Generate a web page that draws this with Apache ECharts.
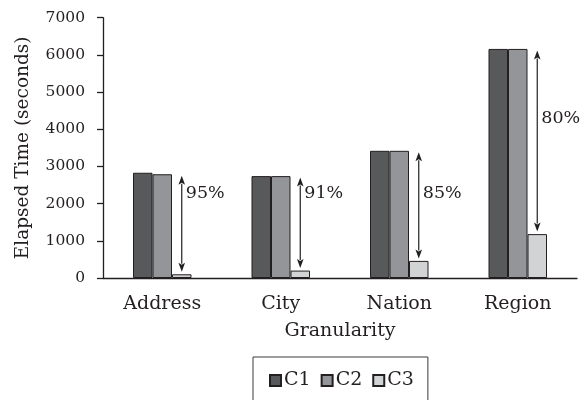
<!DOCTYPE html>
<html>
<head>
<meta charset="utf-8">
<script src="https://cdn.jsdelivr.net/npm/echarts@6/dist/echarts.min.js"></script>
<style>
html,body{margin:0;padding:0;background:#fff;}
#chart{width:587px;height:400px;}
</style>
</head>
<body>
<div id="chart"></div>
<script>
// ---- data ----
var categories = ['Address', 'City', 'Nation', 'Region'];
var seriesNames = ['C1', 'C2', 'C3'];
var c1Values = [2830, 2740, 3420, 6160];
var c2Values = [2790, 2740, 3420, 6160];
var c3Values = [100, 200, 460, 1180];
var reductionLabels = ['95%', '91%', '85%', '80%'];
var labelValues = [2270, 2270, 2270, 4280];
var yTicks = { min: 0, max: 7000, interval: 1000 };

// ---- styles ----
var FONT = 'DejaVu Serif';
var INK = '#231f20';
var BAR_W = 19.5;
var colors = ['#58595b', '#939598', '#d1d3d4'];

var arrowData = categories.map(function (c, i) {
  return [i, c2Values[i], c3Values[i], labelValues[i]];
});

var chart = echarts.init(document.getElementById('chart'), null, { renderer: 'canvas' });

function barSeries(name, data, color) {
  return {
    name: name,
    type: 'bar',
    data: data,
    barWidth: BAR_W,
    barGap: '0%',
    itemStyle: { color: color, borderColor: INK, borderWidth: 1 },
    emphasis: { disabled: true }
  };
}

var option = {
  animation: false,
  backgroundColor: '#fff',
  textStyle: { fontFamily: FONT, color: INK },
  grid: { left: 103, right: 10, top: 17.7, bottom: 122, containLabel: false },
  legend: {
    data: seriesNames,
    left: 253,
    top: 357,
    orient: 'horizontal',
    icon: 'rect',
    itemWidth: 11,
    itemHeight: 11,
    itemGap: 10,
    padding: [14, 14, 14, 16],
    borderColor: '#3a3a3a',
    borderWidth: 1,
    textStyle: { fontFamily: FONT, fontSize: 19, color: INK, padding: [0, 0, 0, -2] }
  },
  xAxis: {
    type: 'category',
    data: categories,
    name: 'Granularity',
    nameLocation: 'middle',
    nameGap: 44,
    nameTextStyle: { fontFamily: FONT, fontSize: 19, color: INK },
    axisLine: { show: true, lineStyle: { color: INK, width: 1.3 } },
    axisTick: { show: false },
    axisLabel: { fontFamily: FONT, fontSize: 19, color: INK, margin: 17 },
    splitLine: { show: false }
  },
  yAxis: {
    type: 'value',
    min: yTicks.min,
    max: yTicks.max,
    interval: yTicks.interval,
    name: 'Elapsed Time (seconds)',
    nameLocation: 'middle',
    nameGap: 70,
    nameTextStyle: { fontFamily: FONT, fontSize: 18.5, color: INK },
    axisLine: { show: true, lineStyle: { color: INK, width: 1.3 } },
    axisTick: { show: true, length: 6, lineStyle: { color: INK, width: 1.3 } },
    axisLabel: { fontFamily: FONT, fontSize: 15.5, color: INK, margin: 18,
                 formatter: function (v) { return String(v); } },
    splitLine: { show: false }
  },
  series: [
    barSeries(seriesNames[0], c1Values, colors[0]),
    barSeries(seriesNames[1], c2Values, colors[1]),
    barSeries(seriesNames[2], c3Values, colors[2]),
    {
      type: 'custom',
      silent: true,
      z: 5,
      data: arrowData,
      encode: { x: 0, y: [1, 2, 3] },
      renderItem: function (params, api) {
        var i = api.value(0);
        var top = api.coord([i, api.value(1)]);
        var bot = api.coord([i, api.value(2)]);
        var lab = api.coord([i, api.value(3)]);
        var x = top[0] + BAR_W;
        var y1 = top[1] + 1.5;
        var y2 = bot[1] - 2.5;
        var hl = 9, hw = 3.3;
        return {
          type: 'group',
          children: [
            { type: 'line', shape: { x1: x, y1: y1 + hl - 1, x2: x, y2: y2 - hl + 1 },
              style: { stroke: INK, lineWidth: 1.2 } },
            { type: 'polygon', shape: { points: [[x, y1], [x - hw, y1 + hl], [x, y1 + hl - 2], [x + hw, y1 + hl]] },
              style: { fill: INK } },
            { type: 'polygon', shape: { points: [[x, y2], [x - hw, y2 - hl], [x, y2 - hl + 2], [x + hw, y2 - hl]] },
              style: { fill: INK } },
            { type: 'text', x: x + 4, y: lab[1],
              style: { text: reductionLabels[i], fontFamily: FONT, fontSize: 17.5, fill: INK,
                       align: 'left', verticalAlign: 'middle' } }
          ]
        };
      }
    }
  ]
};

chart.setOption(option);
</script>
</body>
</html>
